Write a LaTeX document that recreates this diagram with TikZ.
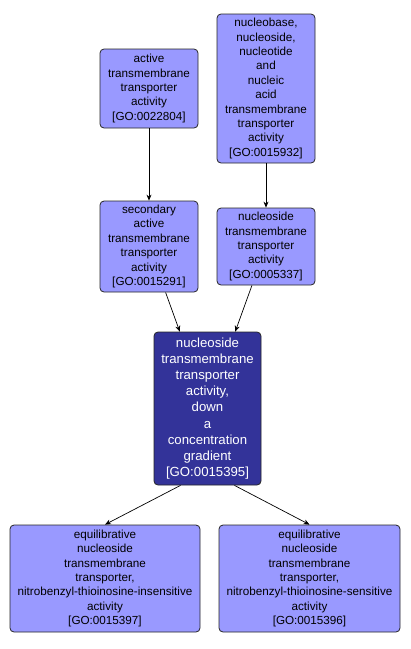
\documentclass[tikz,border=0pt]{standalone}
\usepackage{fontspec}
\setmainfont{Liberation Sans}
\usetikzlibrary{positioning,arrows.meta,calc}
\definecolor{golight}{RGB}{153,153,255}
\definecolor{godark}{RGB}{51,51,153}
\tikzset{
  gobox/.style={draw=black!85,line width=0.8pt,rounded corners=4pt,fill=golight,
    align=center,inner sep=1pt,font=\fontsize{11.7}{14.4}\selectfont},
  gomain/.style={gobox,fill=godark,text=white,font=\fontsize{13.2}{16.1}\selectfont},
  isa/.style={-{Stealth[length=6pt,width=5pt]},line width=0.7pt}
}

\begin{document}
\begin{tikzpicture}[x=1pt,y=-1pt]
        \useasboundingbox (0,0) rectangle (411,649);
        % top row
        \node[gobox,minimum width=98pt,minimum height=79pt] (act) at (149,88.5)
            {active\\transmembrane\\transporter\\activity\\{[GO:0022804]}};
        \node[gobox,minimum width=98pt,minimum height=149pt] (nuc) at (266,88.5)
            {nucleobase,\\nucleoside,\\nucleotide\\and\\nucleic\\acid\\transmembrane\\transporter\\activity\\{[GO:0015932]}};
        % middle row
        \node[gobox,minimum width=98pt,minimum height=91pt] (sec) at (149,246.5)
            {secondary\\active\\transmembrane\\transporter\\activity\\{[GO:0015291]}};
        \node[gobox,minimum width=98pt,minimum height=77pt] (nsd) at (266,246.5)
            {nucleoside\\transmembrane\\transporter\\activity\\{[GO:0005337]}};
        % the term itself
        \node[gomain,minimum width=107pt,minimum height=153pt] (down) at (207.5,408.5)
            {nucleoside\\transmembrane\\transporter\\activity,\\down\\a\\concentration\\gradient\\{[GO:0015395]}};
        % children
        \node[gobox,minimum width=190pt,minimum height=107pt] (ins) at (105,578.5)
            {equilibrative\\nucleoside\\transmembrane\\transporter,\\nitrobenzyl-thioinosine-insensitive\\activity\\{[GO:0015397]}};
        \node[gobox,minimum width=181pt,minimum height=107pt] (sen) at (309.5,578.5)
            {equilibrative\\nucleoside\\transmembrane\\transporter,\\nitrobenzyl-thioinosine-sensitive\\activity\\{[GO:0015396]}};
        \draw[isa] (act) -- (sec);
        \draw[isa] (nuc) -- (nsd);
        \draw[isa] (sec) -- (down);
        \draw[isa] (nsd) -- (down);
        \draw[isa] ([xshift=-27pt]down.south) -- (ins.north);
        \draw[isa] ([xshift=27pt]down.south) -- (sen.north);
      \end{tikzpicture}
\end{document}
